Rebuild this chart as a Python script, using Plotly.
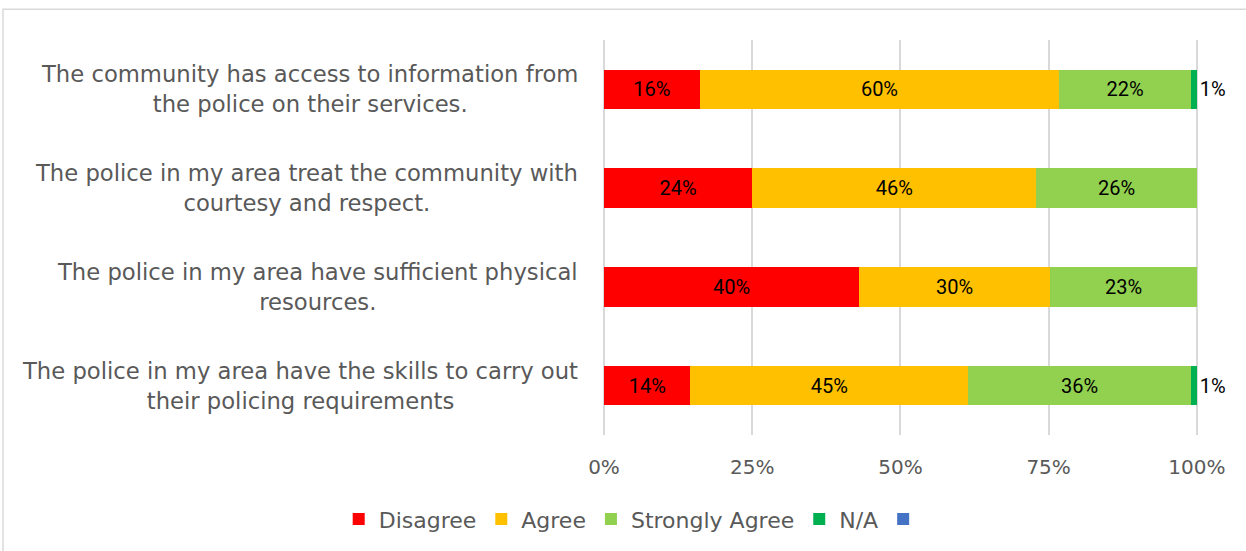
import plotly.graph_objects as go

categories = [
    "The community has access to information from<br>the police on their services.",
    "The police in my area treat the community with<br>courtesy and respect.",
    "The police in my area have sufficient physical<br>resources.",
    "The police in my area have the skills to carry out<br>their policing requirements",
]
disagree = [16, 24, 40, 14]
agree = [60, 46, 30, 45]
strongly_agree = [22, 26, 23, 36]
na = [1, 0, 0, 1]
blank = [None, None, None, None]
tick_vals = [0, 25, 50, 75, 100]
tick_text = ["0%", "25%", "50%", "75%", "100%"]

series = [
    ("Disagree", disagree, "#FF0000"),
    ("Agree", agree, "#FFC000"),
    ("Strongly Agree", strongly_agree, "#92D050"),
    ("N/A", na, "#00B050"),
    ("", blank, "#4472C4"),
]

FONT = "DejaVu Sans"
LBL_FONT = "Liberation Sans Narrow, Roboto, sans-serif"
GRAY = "#595959"

fig = go.Figure()
for name, vals, color in series:
    texts = [f"{v}%" if (v is not None and v > 0) else "" for v in vals]
    fig.add_trace(go.Bar(
        y=categories, x=vals, name=name, orientation="h",
        marker=dict(color=color, line=dict(width=0)),
        text=texts, textposition="inside" if name != "N/A" else "outside",
        insidetextanchor="middle", constraintext="none",
        textfont=dict(family=LBL_FONT, size=20, color="black"),
        cliponaxis=False, hoverinfo="skip",
    ))

for cat in categories:
    fig.add_annotation(
        x=-0.04, xref="paper", y=cat, yref="y", text=cat,
        xanchor="right", yanchor="middle", align="center", showarrow=False,
        font=dict(family=FONT, size=22.7, color=GRAY),
    )

fig.add_shape(type="rect", xref="paper", yref="paper",
              x0=-1.0118, x1=1.09, y0=-0.33, y1=1.078,
              line=dict(color="#D9D9D9", width=1.5), fillcolor="rgba(0,0,0,0)", layer="below")

fig.update_layout(
    width=1246, height=551,
    margin=dict(l=604, r=48, t=40, b=115),
    barmode="stack", barnorm="percent", bargap=0.6,
    plot_bgcolor="white", paper_bgcolor="white",
    font=dict(family=FONT, color=GRAY),
    xaxis=dict(range=[0, 100.2], tickvals=tick_vals, ticktext=tick_text,
               showgrid=True, gridcolor="#D9D9D9", gridwidth=1.5,
               zeroline=True, zerolinecolor="#D9D9D9", zerolinewidth=1.5,
               showline=False,
               tickfont=dict(family=FONT, size=20, color=GRAY),
               ticklabelstandoff=18),
    yaxis=dict(showticklabels=False, autorange="reversed", showgrid=False,
               showline=False, zeroline=False),
    legend=dict(orientation="h", x=0.05, xanchor="center", y=-0.21, yanchor="middle",
                font=dict(family=FONT, size=22, color=GRAY),
                traceorder="normal", itemwidth=30),
    showlegend=True,
)

fig.write_html("out.html")
